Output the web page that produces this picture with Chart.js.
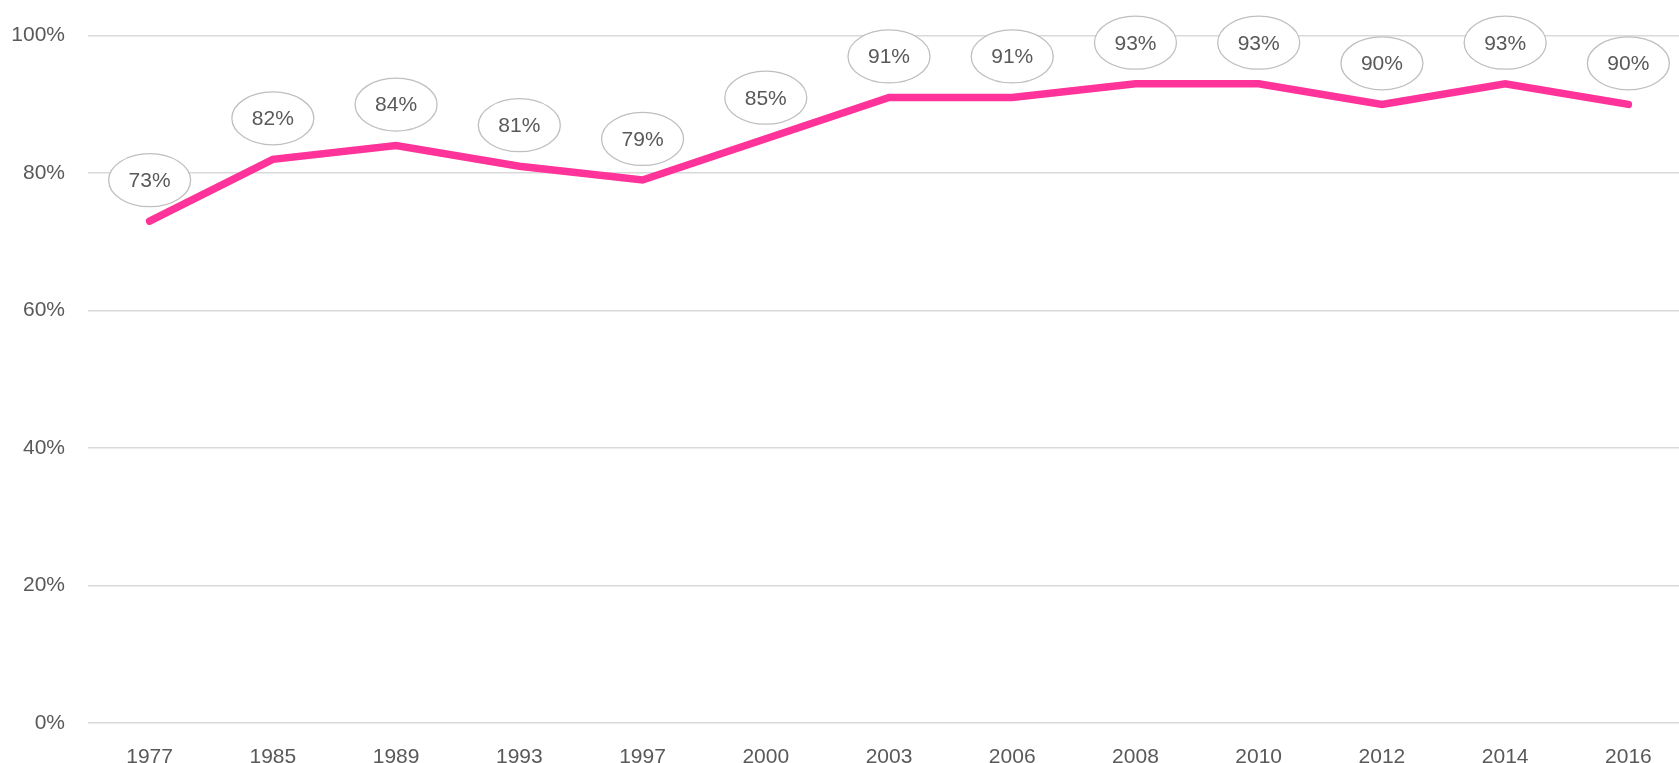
<!DOCTYPE html>
<html>
<head>
<meta charset="utf-8">
<script src="https://cdn.jsdelivr.net/npm/chart.js@4.4.0/dist/chart.umd.min.js"></script>
<style>
  html, body { margin: 0; padding: 0; background: #fff; overflow: hidden; }
  #wrap { width: 1679px; height: 763px; overflow: hidden; }
</style>
</head>
<body>
<div id="wrap"><canvas id="myChart" width="1690" height="763"></canvas></div>
<script>
// Datos del gráfico
const years = ['1977', '1985', '1989', '1993', '1997', '2000', '2003', '2006', '2008', '2010', '2012', '2014', '2016'];
const values = [73, 82, 84, 81, 79, 85, 91, 91, 93, 93, 90, 93, 90];
const yTicks = [0, 20, 40, 60, 80, 100];

const FONT = '"Liberation Sans", "DejaVu Sans", sans-serif';
const TEXT_COLOR = '#595959';

// Etiquetas en elipse encima de cada punto
const ellipseLabels = {
    id: 'ellipseLabels',
    afterDatasetsDraw(chart) {
        const ctx = chart.ctx;
        const meta = chart.getDatasetMeta(0);
        ctx.save();
        meta.data.forEach((pt, i) => {
            const cx = pt.x;
            const cy = pt.y - 41;
            ctx.beginPath();
            ctx.ellipse(cx, cy, 41, 26.5, 0, 0, Math.PI * 2);
            ctx.fillStyle = '#ffffff';
            ctx.fill();
            ctx.lineWidth = 1.3;
            ctx.strokeStyle = '#bfbfbf';
            ctx.stroke();
            ctx.fillStyle = TEXT_COLOR;
            ctx.font = '21px ' + FONT;
            ctx.textAlign = 'center';
            ctx.textBaseline = 'middle';
            ctx.fillText(values[i] + '%', cx, cy + 1);
        });
        ctx.restore();
    }
};

const ctx = document.getElementById('myChart').getContext('2d');
const chart = new Chart(ctx, {
    type: 'line',
    data: {
        labels: years,
        datasets: [{
            data: values,
            borderColor: '#ff3399',
            backgroundColor: '#ff3399',
            borderWidth: 7.5,
            borderCapStyle: 'round',
            borderJoinStyle: 'miter',
            pointRadius: 0,
            tension: 0
        }]
    },
    options: {
        responsive: false,
        animation: false,
        layout: { padding: { top: 26, left: 0, right: 0, bottom: 0 } },
        plugins: {
            legend: { display: false },
            tooltip: { enabled: false }
        },
        scales: {
            x: {
                offset: true,
                grid: { display: false },
                border: { display: false },
                ticks: {
                    color: TEXT_COLOR,
                    font: { family: FONT, size: 21 },
                    padding: 14,
                    maxRotation: 0
                },
                afterFit(scale) { scale.height = 40; }
            },
            y: {
                min: 0,
                max: 100,
                afterBuildTicks(scale) { scale.ticks = yTicks.map(v => ({ value: v })); },
                grid: { color: '#d9d9d9', lineWidth: 1.5, drawTicks: false },
                border: { display: false },
                ticks: {
                    color: TEXT_COLOR,
                    font: { family: FONT, size: 21 },
                    padding: 23,
                    callback: v => v + '%'
                },
                afterFit(scale) { scale.width = 88; }
            }
        }
    },
    plugins: [ellipseLabels]
});
</script>
</body>
</html>
